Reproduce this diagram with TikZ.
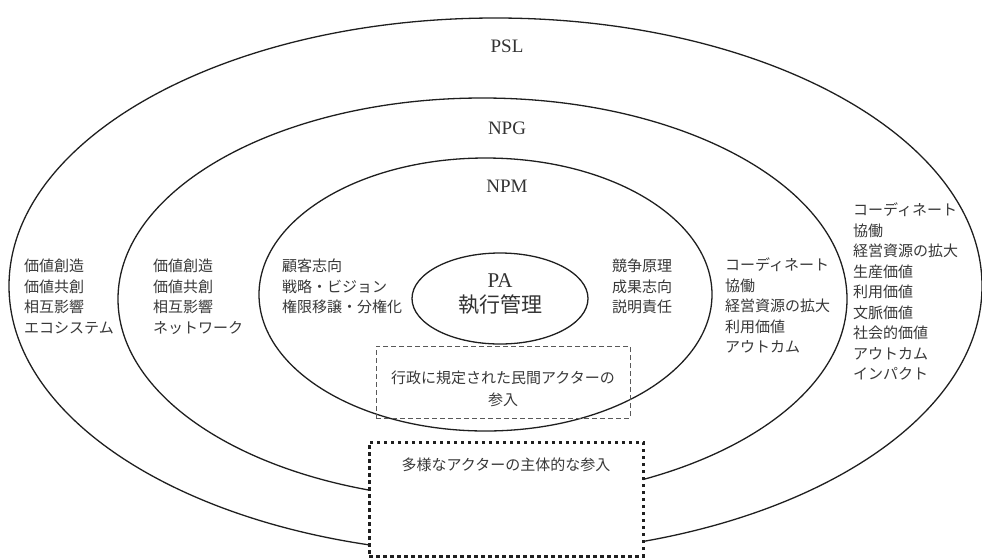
\documentclass[tikz,border=0pt]{standalone}
\usepackage{fontspec}
\setmainfont{Liberation Serif}
\newfontfamily\jp{Noto Sans CJK JP}
\usetikzlibrary{shapes.geometric}
\begin{document}
\begin{tikzpicture}[x=1pt,y=-1pt,
  ring/.style={draw=black!88, line width=1.3pt, ellipse, inner sep=0pt},
  col/.style={font=\jp\fontsize{15}{20.5}\selectfont, align=left, anchor=north west, inner sep=0pt, text=black!78},
  lbl/.style={font=\fontsize{19}{22}\selectfont, text=black!80, inner sep=0pt},
  boxtxt/.style={font=\jp\fontsize{15}{22}\selectfont, align=center, text=black!78, inner sep=0pt},
]
\useasboundingbox (0,0) rectangle (982,558);
% rings
\node[ring, minimum width=973pt, minimum height=536pt] (psl) at (495.5,286) {};
\node[ring, minimum width=729pt, minimum height=402pt] (npg) at (482.5,299) {};
\node[ring, minimum width=453pt, minimum height=273pt] (npm) at (485.5,294.5) {};
\node[ring, minimum width=176pt, minimum height=91pt] (pa) at (500,298.5) {};
% boxes
\node[draw=black!65, line width=0.8pt, dash pattern=on 5pt off 3pt, minimum width=254pt, minimum height=72pt, inner sep=0pt] (admbox) at (503,382) {};
\node[draw=black!88, line width=3pt, dash pattern=on 3.5pt off 3.5pt, fill=white, minimum width=274pt, minimum height=114pt, inner sep=0pt] (divbox) at (506,499) {};
% ring labels
\node[lbl] (tpsl) at (507,46) {PSL};
\node[lbl] (tnpg) at (507,128) {NPG};
\node[lbl] (tnpm) at (507,186) {NPM};
\node[font=\fontsize{21}{25}\selectfont, align=center, text=black!80, inner sep=0pt] (tpa) at (500,294.5) {PA\\{\jp 執行管理}};
% box texts
\node[boxtxt] (tadm) at (503,389) {行政に規定された民間アクターの\\参入};
\node[boxtxt] (tdiv) at (506,465) {多様なアクターの主体的な参入};
% columns
\node[col] (c1) at (24,259) {価値創造\\価値共創\\相互影響\\エコシステム};
\node[col] (c2) at (153,259) {価値創造\\価値共創\\相互影響\\ネットワーク};
\node[col] (c3) at (282,259) {顧客志向\\戦略・ビジョン\\権限移譲・分権化};
\node[col] (c4) at (612,259) {競争原理\\成果志向\\説明責任};
\node[col] (c5) at (725,258) {コーディネート\\協働\\経営資源の拡大\\利用価値\\アウトカム};
\node[col] (c6) at (853,203) {コーディネート\\協働\\経営資源の拡大\\生産価値\\利用価値\\文脈価値\\社会的価値\\アウトカム\\インパクト};
\end{tikzpicture}
\end{document}
